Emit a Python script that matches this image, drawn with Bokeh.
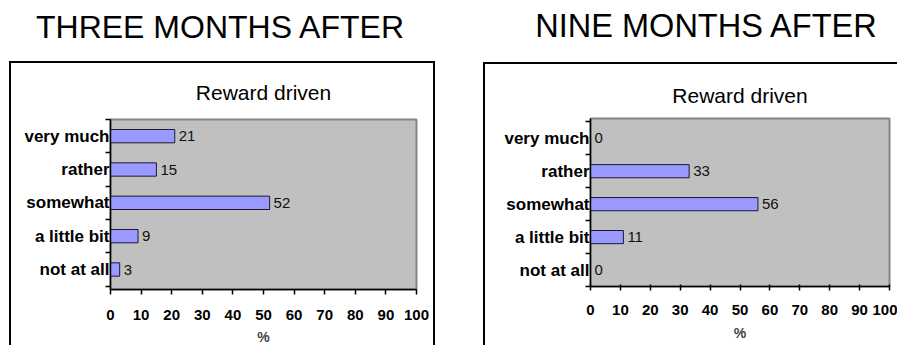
from bokeh.plotting import figure
from bokeh.layouts import row, column
from bokeh.models import Div, Range1d, FixedTicker, ColumnDataSource
from bokeh.embed import file_html
from bokeh.resources import INLINE
from bokeh.core.properties import value

categories = ["not at all", "a little bit", "somewhat", "rather", "very much"]
three_months = [3, 9, 52, 15, 21]
nine_months = [0, 11, 56, 33, 0]
x_ticks = [0, 10, 20, 30, 40, 50, 60, 70, 80, 90, 100]
panel_titles = ["THREE MONTHS AFTER", "NINE MONTHS AFTER"]
chart_title = "Reward driven"
x_label = "%"

FONT = "Liberation Sans"


def make_fig(vals, width, height, mb_left, mb_top, mb_bottom, mb_right,
             y_start, y_end, tick_in, tick_out, label_standoff, title_standoff,
             axis_label_standoff):
    n = len(categories)
    ys = [i + 0.5 for i in range(n)]
    src = ColumnDataSource(dict(y=ys, v=vals, lab=[str(v) for v in vals]))
    p = figure(width=width, height=height, output_backend="svg", toolbar_location=None,
               x_range=Range1d(0, 100), y_range=Range1d(y_start, y_end),
               min_border_left=mb_left, min_border_top=mb_top,
               min_border_bottom=mb_bottom, min_border_right=mb_right,
               title=chart_title)
    p.title.align = "center"
    p.title.text_font = FONT
    p.title.text_font_style = "normal"
    p.title.text_font_size = "21px"
    p.title.text_color = "#000000"
    p.title.standoff = title_standoff
    p.background_fill_color = "#C0C0C0"
    p.border_fill_color = "#FFFFFF"
    p.outline_line_color = "#858585"
    p.outline_line_width = 2
    p.grid.visible = False

    p.hbar(y="y", right="v", left=0, height=0.4, source=src,
           fill_color="#9999FF", line_color="#1A1A33", line_width=1)
    p.text(x="v", y="y", text="lab", source=src, x_offset=4,
           text_baseline="middle", text_align="left",
           text_font=value(FONT), text_font_size="15px", text_color="#111111")

    # x axis
    xa = p.xaxis[0]
    xa.ticker = FixedTicker(ticks=x_ticks, minor_ticks=[])
    xa.axis_line_color = "#000000"
    xa.axis_line_width = 1.5
    xa.major_tick_line_color = "#000000"
    xa.major_tick_line_width = 1.5
    xa.major_tick_in = tick_in
    xa.major_tick_out = tick_out
    xa.minor_tick_line_color = None
    xa.major_label_text_font = FONT
    xa.major_label_text_font_style = "bold"
    xa.major_label_text_font_size = "15px"
    xa.major_label_text_color = "#000000"
    xa.major_label_standoff = label_standoff
    xa.axis_label = x_label
    xa.axis_label_text_font = FONT
    xa.axis_label_text_font_style = "bold"
    xa.axis_label_text_font_size = "14px"
    xa.axis_label_standoff = axis_label_standoff

    # y axis: labels at category centres, ticks at category boundaries
    ya = p.yaxis[0]
    ya.ticker = FixedTicker(ticks=ys, minor_ticks=[float(i) for i in range(n + 1)])
    ya.major_label_overrides = {y: c for y, c in zip(ys, categories)}
    ya.major_tick_in = 0
    ya.major_tick_out = 0
    ya.minor_tick_in = 0
    ya.minor_tick_out = 5
    ya.minor_tick_line_color = "#000000"
    ya.minor_tick_line_width = 1.5
    ya.axis_line_color = "#000000"
    ya.axis_line_width = 1.5
    ya.major_label_text_font = FONT
    ya.major_label_text_font_style = "bold"
    ya.major_label_text_font_size = "17px"
    ya.major_label_text_color = "#000000"
    ya.major_label_standoff = -4
    return p


def title_html(text, width, size, line_height):
    return (f'<div style="width:{width}px;text-align:center;font-family:{FONT};'
            f'font-size:{size}px;line-height:{line_height}px;color:#000000;">{text}</div>')


d1 = Div(text=title_html(panel_titles[0], 430, 32, 54), width=430, height=61,
         margin=(0, 0, 0, 5))
p1 = make_fig(three_months, 426, 284, 99, 53, 55, 21, -0.1, 5, 0, 5, 15, 31, 6)
p1.margin = (0, 0, 0, 9)
p1.styles = {"border-left": "2px solid black", "border-top": "2px solid black",
             "border-right": "2px solid black"}

d2 = Div(text=title_html(panel_titles[1], 380, 32.5, 52), width=380, height=62,
         margin=(0, 0, 0, 81))
p2 = make_fig(nine_months, 414, 283, 105, 54, 61, 10, 0, 5.1, 2, 4, 14, 23, 7)
p2.margin = (0, 0, 0, 48)
p2.styles = {"border-left": "2px solid black", "border-top": "2px solid black"}

layout = row(column(d1, p1), column(d2, p2))

open("out.html", "w").write(file_html(layout, INLINE))
